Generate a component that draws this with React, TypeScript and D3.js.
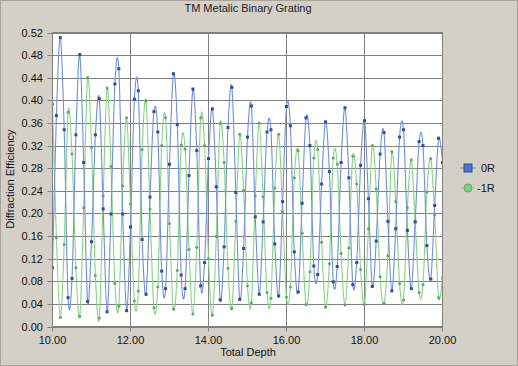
import React from 'react';
import * as d3 from 'd3';

// depth samples: 10.0 .. 20.0 every 0.1
const depthStart = 10;
const depthStep = 0.1;

const zeroOrder = [
  0.104, 0.373, 0.511, 0.348, 0.051, 0.085, 0.339, 0.481, 0.29, 0.044,
  0.15, 0.339, 0.403, 0.208, 0.026, 0.199, 0.429, 0.456, 0.199, 0.028,
  0.176, 0.402, 0.417, 0.154, 0.057, 0.229, 0.38, 0.344, 0.098, 0.067,
  0.287, 0.447, 0.357, 0.091, 0.067, 0.267, 0.42, 0.311, 0.072, 0.113,
  0.297, 0.385, 0.247, 0.047, 0.141, 0.352, 0.423, 0.237, 0.048, 0.138,
  0.335, 0.39, 0.194, 0.057, 0.185, 0.344, 0.348, 0.146, 0.054, 0.221,
  0.389, 0.355, 0.132, 0.061, 0.218, 0.369, 0.32, 0.107, 0.092, 0.252,
  0.362, 0.274, 0.079, 0.106, 0.29, 0.387, 0.263, 0.074, 0.113, 0.285,
  0.364, 0.226, 0.071, 0.151, 0.305, 0.343, 0.186, 0.063, 0.173, 0.335,
  0.348, 0.17, 0.067, 0.185, 0.327, 0.32, 0.143, 0.084, 0.214, 0.333,
  0.29,
];

const minusFirst = [
  0.393, 0.157, 0.016, 0.145, 0.379, 0.305, 0.104, 0.018, 0.21, 0.44,
  0.317, 0.09, 0.015, 0.231, 0.422, 0.283, 0.076, 0.036, 0.249, 0.369,
  0.217, 0.045, 0.063, 0.313, 0.399, 0.208, 0.033, 0.07, 0.32, 0.369,
  0.182, 0.031, 0.099, 0.321, 0.314, 0.136, 0.022, 0.14, 0.369, 0.32,
  0.12, 0.02, 0.159, 0.359, 0.29, 0.103, 0.032, 0.186, 0.34, 0.241,
  0.072, 0.042, 0.231, 0.36, 0.229, 0.06, 0.05, 0.245, 0.34, 0.203,
  0.052, 0.07, 0.263, 0.311, 0.165, 0.039, 0.097, 0.298, 0.313, 0.149,
  0.034, 0.111, 0.298, 0.287, 0.129, 0.038, 0.139, 0.301, 0.252, 0.101,
  0.039, 0.173, 0.32, 0.243, 0.088, 0.041, 0.125, 0.309, 0.221, 0.076,
  0.047, 0.21, 0.295, 0.186, 0.06, 0.074, 0.238, 0.297, 0.197, 0.051,
  0.086,
];

const xTicks = [10, 12, 14, 16, 18, 20];
const yTicks = [0, 0.04, 0.08, 0.12, 0.16, 0.2, 0.24, 0.28, 0.32, 0.36, 0.4, 0.44, 0.48, 0.52];

const W = 518;
const H = 366;
const FONT = 'Liberation Sans, Arial, sans-serif';

const x = d3.scaleLinear().domain([10, 20]).range([52.5, 442.5]);
const y = d3.scaleLinear().domain([0, 0.52]).range([326.5, 32.5]);

const line = d3
  .line<number>()
  .x((_, i) => x(depthStart + i * depthStep))
  .y((d) => y(d))
  .curve(d3.curveCardinal.tension(0));

export default function App() {
  return (
    <svg
      width={W}
      height={H}
      style={{ position: 'absolute', left: 0, top: 0 }}
      fontFamily={FONT}
    >
      <rect x={0} y={0} width={W} height={H} fill="#d4d0c8" />
      <rect x={0.5} y={0.5} width={W - 1} height={H - 1} fill="none" stroke="#a8a49c" />
      <text x={248} y={12} textAnchor="middle" fontSize={11} fill="#222">
        TM Metalic Binary Grating
      </text>

      <rect x={52.5} y={32.5} width={390} height={294} fill="#fff" />
      {/* grid */}
      {yTicks.map((t) => (
        <line key={'gy' + t} x1={x(10) - 5} x2={x(20)} y1={Math.round(y(t)) + 0.5} y2={Math.round(y(t)) + 0.5} stroke="#808080" />
      ))}
      {xTicks.map((t) => (
        <line key={'gx' + t} x1={x(t)} x2={x(t)} y1={y(0.52)} y2={y(0) + 5} stroke="#808080" />
      ))}
      <rect x={52.5} y={32.5} width={390} height={294} fill="none" stroke="#808080" />

      <g clipPath="url(#plotClip)">
        <defs>
          <clipPath id="plotClip">
            <rect x={53} y={33} width={389} height={293} />
          </clipPath>
        </defs>
        <path d={line(minusFirst) ?? ''} fill="none" stroke="#86d386" strokeWidth={1.1} />
        <path d={line(zeroOrder) ?? ''} fill="none" stroke="#6f8fdc" strokeWidth={1.1} />
        {minusFirst.map((v, i) => (
          <circle key={'g' + i} cx={x(depthStart + i * depthStep)} cy={y(v)} r={1.5} fill="#63a563" />
        ))}
        {zeroOrder.map((v, i) => (
          <rect key={'b' + i} x={x(depthStart + i * depthStep) - 1.5} y={y(v) - 1.5} width={3} height={3} fill="#2f4f90" />
        ))}
      </g>

      {/* axis labels */}
      {yTicks.map((t) => (
        <text key={'ly' + t} x={43} y={y(t) + 4} textAnchor="end" fontSize={11} fill="#111">
          {t.toFixed(2)}
        </text>
      ))}
      {xTicks.map((t) => (
        <text key={'lx' + t} x={x(t)} y={344} textAnchor="middle" fontSize={11} fill="#111">
          {t.toFixed(2)}
        </text>
      ))}
      <text x={248} y={356} textAnchor="middle" fontSize={11} fill="#111">
        Total Depth
      </text>
      <text transform={`translate(14,179) rotate(-90)`} textAnchor="middle" fontSize={11} fill="#111">
        Diffraction Efficiency
      </text>

      {/* legend */}
      <line x1={461} x2={475} y1={168} y2={168} stroke="#6f8fdc" strokeWidth={1.1} />
      <rect x={464} y={164} width={8} height={8} fill="#4a72d0" stroke="#2f4f90" />
      <text x={481} y={172} fontSize={11} fill="#111">0R</text>
      <line x1={461} x2={475} y1={188} y2={188} stroke="#86d386" strokeWidth={1.1} />
      <circle cx={468} cy={188} r={4} fill="#7fcf7f" stroke="#5fa85f" />
      <text x={477} y={192} fontSize={11} fill="#111">-1R</text>
    </svg>
  );
}
